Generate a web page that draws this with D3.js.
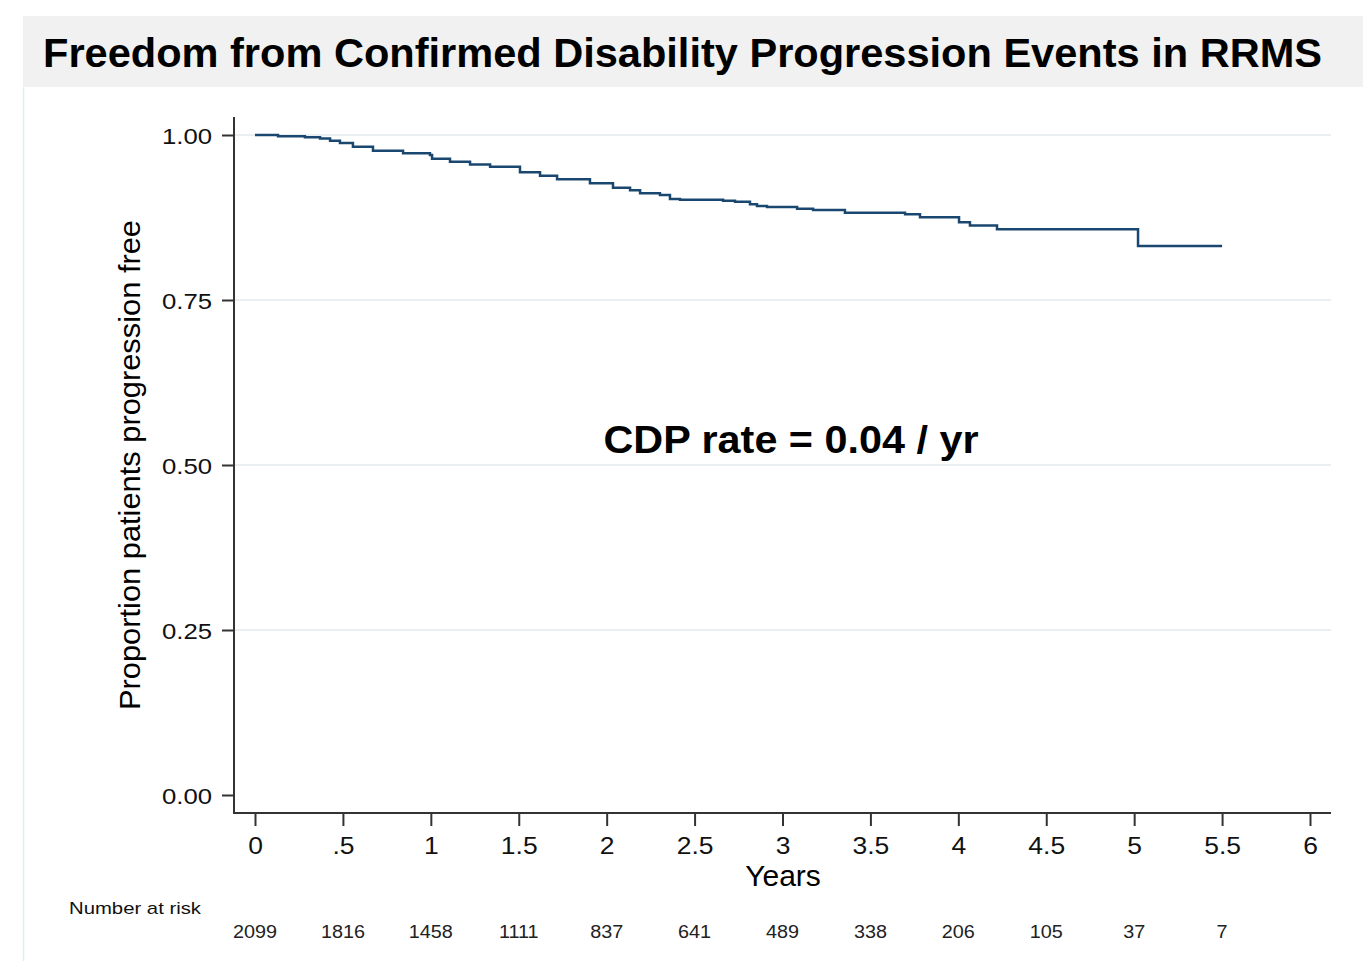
<!DOCTYPE html>
<html>
<head>
<meta charset="utf-8">
<script src="https://cdnjs.cloudflare.com/ajax/libs/d3/7.8.5/d3.min.js"></script>
<style>
  body { margin: 0; background: #fff; }
  text { font-family: "Liberation Sans", Arial, sans-serif; }
</style>
</head>
<body>
<svg id="chart"></svg>
<script>
// Kaplan-Meier steps: time (years) and survival after the drop
var stepTimes = [0, 0.131, 0.284, 0.370, 0.427, 0.483, 0.557, 0.671, 0.842, 0.995, 1.007, 1.109, 1.223, 1.337,
  1.507, 1.621, 1.718, 1.905, 2.036, 2.133, 2.19, 2.303, 2.36, 2.417, 2.662, 2.73, 2.815, 2.855, 2.912,
  3.083, 3.174, 3.355, 3.697, 3.782, 4.004, 4.066, 4.22, 5.022];
var stepSurvival = [1.0, 0.998, 0.9965, 0.9947, 0.9914, 0.9879, 0.9823, 0.9762, 0.9723, 0.9697, 0.9641, 0.9595, 0.9553, 0.952,
  0.9435, 0.9383, 0.9329, 0.9268, 0.9202, 0.9162, 0.9117, 0.9091, 0.903, 0.902, 0.9005, 0.899, 0.895, 0.8924, 0.8909,
  0.8883, 0.8864, 0.8823, 0.8798, 0.8753, 0.8677, 0.8629, 0.8571, 0.8318];
var lastTime = 5.5;

var xTicks = [0, 0.5, 1, 1.5, 2, 2.5, 3, 3.5, 4, 4.5, 5, 5.5, 6];
var xTickLabels = ["0", ".5", "1", "1.5", "2", "2.5", "3", "3.5", "4", "4.5", "5", "5.5", "6"];
var yTicks = [0, 0.25, 0.5, 0.75, 1];
var riskTimes = [0, 0.5, 1, 1.5, 2, 2.5, 3, 3.5, 4, 4.5, 5, 5.5];
var riskCounts = [2099, 1816, 1458, 1111, 837, 641, 489, 338, 206, 105, 37, 7];

var width = 1363, height = 961;
var svg = d3.select("#chart").attr("width", width).attr("height", height);

// the original text is a bit wider than Liberation, stretch it
function widen(sel, k) {
  sel.each(function() {
    var w = this.getComputedTextLength();
    d3.select(this).attr("textLength", w * k).attr("lengthAdjust", "spacingAndGlyphs");
  });
}

// background panels
svg.append("rect").attr("x", 23).attr("y", 16).attr("width", width - 23).attr("height", 71).attr("fill", "#f1f1f1");
svg.append("line").attr("x1", 23.5).attr("x2", 23.5).attr("y1", 87).attr("y2", height)
  .attr("stroke", "#e4eef0").attr("stroke-width", 1.5);

svg.append("text")
  .attr("x", 43).attr("y", 67)
  .attr("font-size", 40).attr("font-weight", "bold").attr("fill", "#000")
  .attr("textLength", 1279).attr("lengthAdjust", "spacingAndGlyphs")
  .text("Freedom from Confirmed Disability Progression Events in RRMS");

var x = d3.scaleLinear().domain([0, 6]).range([255, 1310]);
var y = d3.scaleLinear().domain([0, 1]).range([795, 135]);

// gridlines
svg.append("g").selectAll("line")
  .data(yTicks.slice(1))
  .enter().append("line")
  .attr("x1", 234).attr("x2", 1331)
  .attr("y1", function(d) { return y(d); }).attr("y2", function(d) { return y(d); })
  .attr("stroke", "#e8f0f2").attr("stroke-width", 2);

// axes
var yAxis = d3.axisLeft(y).tickValues(yTicks).tickFormat(d3.format(".2f")).tickSize(12).tickPadding(10);
var gy = svg.append("g").attr("transform", "translate(234,0)").call(yAxis);
gy.select(".domain").remove();
gy.append("line").attr("x1", 0).attr("x2", 0).attr("y1", 117).attr("y2", 814)
  .attr("stroke", "#333").attr("stroke-width", 2);
gy.selectAll(".tick line").attr("stroke", "#333").attr("stroke-width", 2);
gy.selectAll(".tick text").attr("font-size", 22).attr("fill", "#111").attr("dy", "0.38em")
  .attr("font-family", "Liberation Sans, Arial, sans-serif")
  .call(widen, 1.17);

var xAxis = d3.axisBottom(x).tickValues(xTicks)
  .tickFormat(function(d, i) { return xTickLabels[i]; }).tickSize(13).tickPadding(12);
var gx = svg.append("g").attr("transform", "translate(0,813)").call(xAxis);
gx.select(".domain").remove();
gx.append("line").attr("x1", 233).attr("x2", 1331).attr("y1", 0).attr("y2", 0)
  .attr("stroke", "#333").attr("stroke-width", 2);
gx.selectAll(".tick line").attr("stroke", "#333").attr("stroke-width", 2);
gx.selectAll(".tick text").attr("font-size", 23).attr("fill", "#111")
  .attr("font-family", "Liberation Sans, Arial, sans-serif")
  .call(widen, 1.15);

// survival curve
var curveData = stepTimes.map(function(t, i) { return [t, stepSurvival[i]]; });
curveData.push([lastTime, stepSurvival[stepSurvival.length - 1]]);
var line = d3.line()
  .x(function(d) { return x(d[0]); })
  .y(function(d) { return y(d[1]); })
  .curve(d3.curveStepAfter);
svg.append("path")
  .datum(curveData)
  .attr("d", line)
  .attr("fill", "none")
  .attr("stroke", "#1a476f")
  .attr("stroke-width", 2.5);

// labels
svg.append("text")
  .attr("transform", "translate(140,465) rotate(-90)")
  .attr("text-anchor", "middle")
  .attr("font-size", 30).attr("fill", "#000")
  .attr("textLength", 490).attr("lengthAdjust", "spacingAndGlyphs")
  .text("Proportion patients progression free");

svg.append("text")
  .attr("x", 783).attr("y", 886)
  .attr("text-anchor", "middle")
  .attr("font-size", 30).attr("fill", "#000")
  .text("Years");

svg.append("text")
  .attr("x", 791).attr("y", 453)
  .attr("text-anchor", "middle")
  .attr("font-size", 38).attr("font-weight", "bold").attr("fill", "#000")
  .attr("textLength", 375).attr("lengthAdjust", "spacingAndGlyphs")
  .text("CDP rate = 0.04 / yr");

svg.append("text")
  .attr("x", 69).attr("y", 914)
  .attr("font-size", 17).attr("fill", "#111")
  .attr("textLength", 132).attr("lengthAdjust", "spacingAndGlyphs")
  .text("Number at risk");

svg.append("g").selectAll("text")
  .data(riskCounts)
  .enter().append("text")
  .attr("x", function(d, i) { return x(riskTimes[i]); })
  .attr("y", 938)
  .attr("text-anchor", "middle")
  .attr("font-size", 18).attr("fill", "#222")
  .text(function(d) { return d; })
  .call(widen, 1.1);
</script>
</body>
</html>
